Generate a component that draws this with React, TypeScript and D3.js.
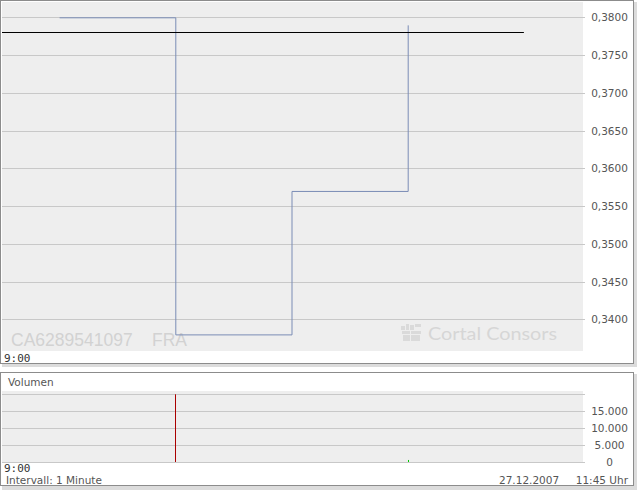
import React from "react";
import * as d3 from "d3";

// ---- data ----
const slots = ["s0", "s1", "s2", "s3", "s4"];
const priceSlots = ["s0", "s1", "s2", "s3"];
const prices = [0.38, 0.338, 0.357, 0.379];
const referencePrice = 0.378;
const referenceEndSlot = "s4";
const volumes = [0, 20000, 0, 600];
const priceTicks = [0.34, 0.345, 0.35, 0.355, 0.36, 0.365, 0.37, 0.375, 0.38];
const volumeTicks = [0, 5000, 10000, 15000, 20000];
const volumeLabels = ["0", "5.000", "10.000", "15.000", ""];
const timeLabel = "9:00";
const isin = "CA6289541097";
const exchange = "FRA";
const intervalText = "Intervall: 1 Minute";
const dateText = "27.12.2007";
const timeText = "11:45 Uhr";

const FONT = "'DejaVu Sans', Verdana, sans-serif";

export default function App() {
  const plotLeft = 2;
  const plotRight = 583;
  const x = d3.scaleBand<string>().domain(slots).range([1, 582]);
  const cx = (s: string) => (x(s) as number) + x.bandwidth() / 2;

  const y = d3.scaleLinear().domain([0.34, 0.38]).range([319.3, 17.3]);
  const priceTop = 2;
  const priceBottom = 351;

  const vy = d3.scaleLinear().domain([0, 20000]).range([462, 394.3]);
  const volTop = 391;
  const volBottom = 462;

  const pts: [number, number][] = priceSlots.map((s, i) => [cx(s), y(prices[i])]);
  const line = d3.line().curve(d3.curveStepAfter)(pts) || "";

  const fmt = (v: number) => v.toFixed(4).replace(".", ",");
  const labelX = 609.5;

  return (
    <svg
      width={640}
      height={492}
      style={{ position: "absolute", left: 0, top: 0, background: "#fff" }}
      fontFamily={FONT}
    >
      {/* top panel */}
      <rect x={2} y={2} width={635} height={365} fill="#dcdcdc" />
      <rect x={0.5} y={0.5} width={633} height={363} fill="#fff" stroke="#8c8c8c" />
      <rect x={plotLeft} y={priceTop} width={plotRight - plotLeft} height={priceBottom - priceTop} fill="#eeeeee" />

      {/* watermark */}
      <text x={11} y={346} fontFamily="'Liberation Sans', Arial, sans-serif" fontSize={17.5} fill="#d2d2d2">
        {isin}
      </text>
      <text x={152} y={346} fontFamily="'Liberation Sans', Arial, sans-serif" fontSize={17.5} fill="#d2d2d2">
        {exchange}
      </text>
      <g fill="#dadada">
        <rect x={401} y={326} width={4} height={4} />
        <rect x={406} y={324} width={3} height={6} />
        <rect x={410} y={325} width={4} height={5} />
        <rect x={415} y={324} width={6} height={3} />
        <rect x={402} y={331} width={8} height={3} />
        <rect x={411} y={331} width={10} height={3} />
        <rect x={403} y={335} width={7} height={6} />
        <rect x={411} y={335} width={9} height={6} />
      </g>
      <text
        x={428}
        y={340}
        fontFamily="Lato, 'Open Sans', sans-serif"
        fontSize={18}
        fill="#d6d6d6"
        textLength={129}
        lengthAdjust="spacingAndGlyphs"
      >
        Cortal Consors
      </text>

      {/* price grid + labels */}
      {priceTicks.map((t) => (
        <g key={t}>
          <line x1={plotLeft} x2={plotRight + 2} y1={Math.round(y(t)) + 0.5} y2={Math.round(y(t)) + 0.5} stroke="#c8c8c8" />
          <text x={labelX} y={y(t) + 4} textAnchor="middle" fontSize={10.5} fill="#555">
            {fmt(t)}
          </text>
        </g>
      ))}

      {/* price line */}
      <path d={line} fill="none" stroke="#7a8cb5" strokeWidth={1} transform="translate(0.5,0.5)" />
      <line
        x1={plotLeft}
        x2={cx(referenceEndSlot)}
        y1={Math.round(y(referencePrice)) + 0.5}
        y2={Math.round(y(referencePrice)) + 0.5}
        stroke="#000"
        strokeWidth={1.2}
      />

      <text x={4} y={362} fontFamily="'DejaVu Sans Mono', monospace" fontSize={11} fill="#333">
        {timeLabel}
      </text>

      {/* volume panel */}
      <rect x={2} y={374} width={635} height={116} fill="#dcdcdc" />
      <rect x={0.5} y={372.5} width={633} height={113} fill="#fff" stroke="#8c8c8c" />
      <text x={8} y={386} fontSize={10.5} fill="#555">
        Volumen
      </text>
      <rect x={plotLeft} y={volTop} width={plotRight - plotLeft} height={volBottom - volTop} fill="#eeeeee" />
      {volumeTicks.map((t, i) => (
        <g key={t}>
          <line x1={plotLeft} x2={plotRight + 2} y1={Math.round(vy(t)) + 0.5} y2={Math.round(vy(t)) + 0.5} stroke="#c8c8c8" />
          {volumeLabels[i] && (
            <text x={labelX} y={vy(t) + 4} textAnchor="middle" fontSize={10.5} fill="#555">
              {volumeLabels[i]}
            </text>
          )}
        </g>
      ))}
      {priceSlots.map((s, i) => {
        const v = volumes[i];
        if (!v) return null;
        const up = i > 0 && prices[i] > prices[i - 1];
        return (
          <rect
            key={s}
            x={Math.round(cx(s))}
            y={vy(v)}
            width={1}
            height={vy(0) - vy(v)}
            fill={up ? "#00cc00" : "#aa0000"}
          />
        );
      })}
      <text x={4} y={472} fontFamily="'DejaVu Sans Mono', monospace" fontSize={11} fill="#333">
        {timeLabel}
      </text>
      <text x={6} y={484} fontSize={10.5} fill="#555">
        {intervalText}
      </text>
      <text x={499} y={484} fontSize={10.5} fill="#555">
        {dateText}
      </text>
      <text x={628} y={484} textAnchor="end" fontSize={10.5} fill="#555">
        {timeText}
      </text>
    </svg>
  );
}
